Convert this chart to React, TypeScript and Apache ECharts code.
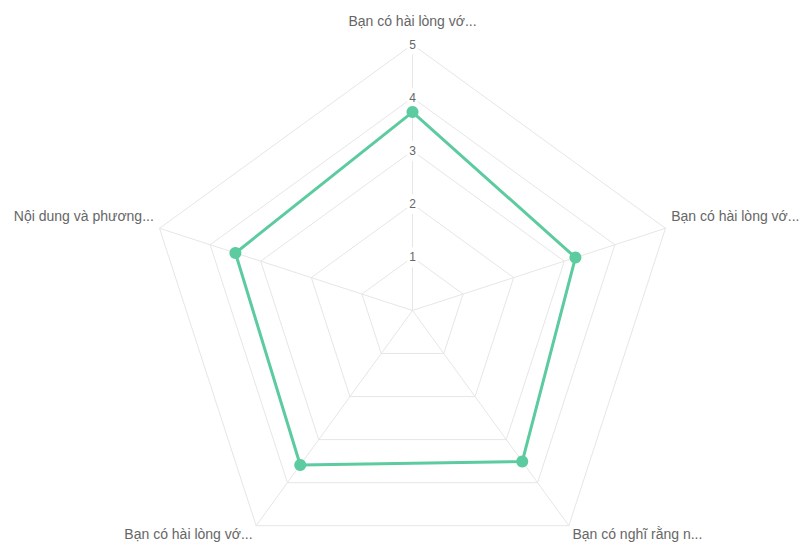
import React, { useEffect, useRef } from "react";
import * as echarts from "echarts";

// Survey questions (axis names, already shortened), listed clockwise from the top,
// and their average scores
const questions = [
  "Bạn có hài lòng vớ...",
  "Bạn có hài lòng vớ...",
  "Bạn có nghĩ rằng n...",
  "Bạn có hài lòng vớ...",
  "Nội dung và phương...",
];
const scores = [3.73, 3.22, 3.51, 3.59, 3.5];
const scaleMax = 5;
const scaleSteps = 5;

const GREEN = "#5ccba0";
const GRID = "#e6e6e6";
const TEXT = "#666666";
const FONT = "Arial, 'Liberation Sans', Helvetica, sans-serif";

// ECharts lays radar axes out counter-clockwise; walk the lists clockwise instead
const order = questions.map((_, i) => (questions.length - i) % questions.length);
// name label placement per position: top, right, bottom-right, bottom-left, left
const nameStyle = ["top", "side", "low", "low", "side"];

export default function App() {
  const ref = useRef<HTMLDivElement>(null);

  useEffect(() => {
    document.body.style.margin = "0";
    if (!ref.current) return;
    const chart = echarts.init(ref.current, undefined, { renderer: "svg" });
    const tick = { color: TEXT, fontSize: 12, fontFamily: FONT };
    const nm = { color: TEXT, fontSize: 14, fontFamily: FONT };
    chart.setOption({
      animation: false,
      backgroundColor: "#ffffff",
      radar: {
        center: [412.5, 310.5],
        radius: 266,
        startAngle: 90,
        shape: "polygon",
        splitNumber: scaleSteps,
        nameGap: 6,
        axisName: {
          ...nm,
          formatter: (name: string, ind: any) => `{${ind.pos}|${name}}`,
          rich: {
            top: { ...nm, padding: [0, 0, 11, 0] },
            side: { ...nm, padding: [0, 0, 20, 0] },
            low: { ...nm, padding: [6, 0, 0, 0] },
          },
        },
        indicator: order.map((k, i) => ({
          name: questions[k],
          pos: nameStyle[k],
          min: 0,
          max: scaleMax,
          ...(i === 0
            ? {
                axisLabel: {
                  show: true,
                  showMinLabel: false,
                  ...tick,
                  align: "center",
                  verticalAlign: "middle",
                  margin: 0,
                  backgroundColor: "#ffffff",
                  padding: [0, 2, 8, 2],
                },
              }
            : {}),
        })),
        axisLine: { lineStyle: { color: GRID, width: 1 } },
        splitLine: { lineStyle: { color: GRID, width: 1 } },
        splitArea: { show: false },
        axisTick: { show: false },
        axisLabel: { show: false },
      },
      series: [
        {
          type: "radar",
          symbol: "circle",
          symbolSize: 12,
          data: [
            {
              value: order.map((k) => scores[k]),
              lineStyle: { color: GREEN, width: 3 },
              itemStyle: { color: GREEN },
              areaStyle: { opacity: 0 },
            },
          ],
        },
      ],
    });
    return () => chart.dispose();
  }, []);

  return <div ref={ref} style={{ width: 803, height: 545 }} />;
}
